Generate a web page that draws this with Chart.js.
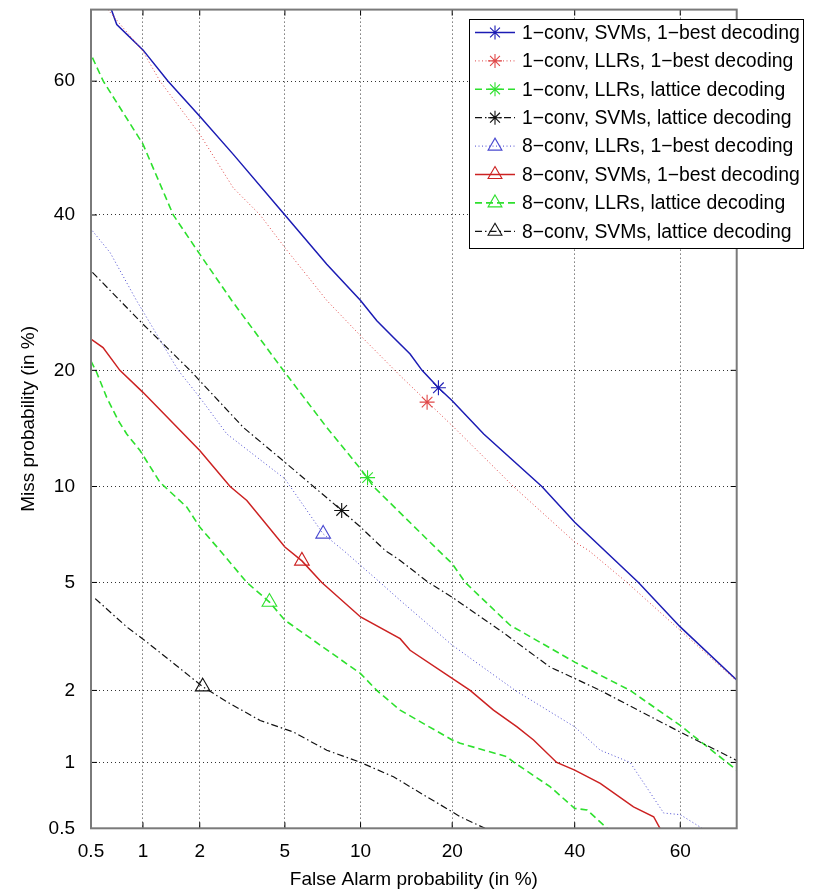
<!DOCTYPE html>
<html>
<head>
<meta charset="utf-8">
<script src="https://cdn.jsdelivr.net/npm/chart.js@4/dist/chart.umd.min.js"></script>
<style>
html,body{margin:0;padding:0;background:#fff;}
#wrap{width:813px;height:893px;}
</style>
</head>
<body>
<div id="wrap"><canvas id="c" width="813" height="893"></canvas></div>
<script>
// ---------------- DATA (percent) ----------------
const tickValues = [0.5, 1, 2, 5, 10, 20, 40, 60];
const tickLabels = ["0.5", "1", "2", "5", "10", "20", "40", "60"];
const axisMin = 0.5, axisMax = 70;

const seriesNames = [
  "1\u2212conv, SVMs, 1\u2212best decoding",
  "1\u2212conv, LLRs, 1\u2212best decoding",
  "1\u2212conv, LLRs, lattice decoding",
  "1\u2212conv, SVMs, lattice decoding",
  "8\u2212conv, LLRs, 1\u2212best decoding",
  "8\u2212conv, SVMs, 1\u2212best decoding",
  "8\u2212conv, LLRs, lattice decoding",
  "8\u2212conv, SVMs, lattice decoding"
];

const conv1SvmBestFA   = [0.66, 0.71, 1.0, 1.37, 2.0, 2.92, 5.0, 7.44, 10, 11.44, 13.06, 14.83, 16.2, 18.2, 20, 24.5, 34.05, 40, 52.1, 60, 70];
const conv1SvmBestMiss = [70, 68.0, 64.5, 60, 54.8, 49.05, 40, 33.0, 28.2, 25.66, 23.66, 21.78, 20, 18.2, 16.94, 13.95, 10, 7.83, 5, 3.49, 2.2];

const conv1LlrBestFA   = [0.63, 1.0, 1.24, 2.0, 2.92, 3.89, 5.0, 7.44, 10, 13.75, 16.8, 20, 29.2, 40, 42.6, 49.9, 60, 70];
const conv1LlrBestMiss = [70, 64.3, 60, 52.1, 44.0, 40, 35.3, 28.2, 23.86, 19.44, 16.85, 14.66, 10, 6.79, 6.38, 5, 3.39, 2.18];

const conv1LlrLatFA   = [0.51, 0.592, 1.0, 1.46, 2.0, 2.87, 4.92, 7.44, 10, 10.6, 11.13, 18.2, 20, 21.8, 28.66, 40, 50.5, 60, 70];
const conv1LlrLatMiss = [63.4, 60, 50.6, 40, 34.4, 28.2, 20, 14.5, 11.22, 10.56, 10, 6.38, 5.78, 5, 3.54, 2.58, 2, 1.44, 0.925];

const conv1SvmLatFA   = [0.51, 0.74, 1.0, 1.785, 2.0, 3.26, 5.0, 8.5, 10, 12.23, 13.75, 16.96, 20, 27.05, 35.5, 40, 44.8, 60, 70];
const conv1SvmLatMiss = [31.9, 28.2, 25.25, 20, 18.92, 14.5, 11.71, 8.5, 7.56, 6.38, 5.92, 5, 4.45, 3.39, 2.47, 2.23, 2, 1.35, 1.02];

const conv8LlrBestFA   = [0.51, 0.65, 0.92, 1.55, 2.0, 2.72, 5.0, 7.2, 8.63, 11.75, 13.75, 20, 29.5, 40, 44.8, 50.5, 56.9, 60, 64];
const conv8LlrBestMiss = [37.7, 34.6, 28.2, 20, 17.26, 13.95, 10.52, 7.2, 6.38, 5, 4.34, 2.99, 2, 1.42, 1.13, 1, 0.59, 0.58, 0.5];

const conv8SvmBestFA   = [0.5, 0.59, 0.74, 1.0, 2.0, 2.82, 3.38, 5.0, 5.9, 7.11, 10, 13.75, 14.83, 20, 22.5, 26.0, 29.8, 32.6, 36.7, 40, 44.8, 51.15, 55.0, 56.2];
const conv8SvmBestMiss = [23.48, 22.5, 20, 17.75, 12.6, 10, 9.1, 6.54, 5.9, 5, 3.79, 3.16, 2.86, 2.23, 2, 1.665, 1.42, 1.25, 1.0, 0.925, 0.807, 0.63, 0.567, 0.5];

const conv8LlrLatFA   = [0.5, 0.54, 0.62, 0.725, 0.81, 0.963, 1.24, 1.72, 2.0, 2.52, 3.38, 4.28, 5.0, 10, 11.44, 13.75, 20, 21.1, 28.1, 29.3, 35.5, 40, 42.3, 46.1];
const conv8LlrLatMiss = [21.0, 19.8, 17.26, 15.1, 13.95, 12.6, 10.28, 8.69, 7.56, 6.38, 5, 4.28, 3.69, 2.33, 2, 1.665, 1.25, 1.21, 1.06, 1.0, 0.78, 0.62, 0.61, 0.5];

const conv8SvmLatFA   = [0.53, 0.81, 1.05, 1.40, 2.07, 2.72, 3.89, 5.44, 7.44, 10, 13.06, 16.8, 20, 21.1, 24.7];
const conv8SvmLatMiss = [4.4, 3.49, 3.07, 2.62, 2.07, 1.8, 1.51, 1.35, 1.13, 1.0, 0.864, 0.70, 0.598, 0.567, 0.5];

// equal error rate marker per series (FA = Miss, percent)
const eerValues = [18.2, 16.8, 10.6, 8.5, 7.2, 5.9, 4.28, 2.07];

// ---------------- STYLE ----------------
const seriesFA   = [conv1SvmBestFA, conv1LlrBestFA, conv1LlrLatFA, conv1SvmLatFA, conv8LlrBestFA, conv8SvmBestFA, conv8LlrLatFA, conv8SvmLatFA];
const seriesMiss = [conv1SvmBestMiss, conv1LlrBestMiss, conv1LlrLatMiss, conv1SvmLatMiss, conv8LlrBestMiss, conv8SvmBestMiss, conv8LlrLatMiss, conv8SvmLatMiss];
const styles = [
  {color:'#1c1cb4', dash:[],            width:1.5, marker:'star'},
  {color:'#e04848', dash:[1,2.5],       width:1.0, marker:'star'},
  {color:'#2ee02e', dash:[7,4],         width:1.6, marker:'star'},
  {color:'#111111', dash:[7,3,1.5,3],   width:1.2, marker:'star'},
  {color:'#4a4ad0', dash:[1,2.5],       width:1.0, marker:'triangle'},
  {color:'#cc2222', dash:[],            width:1.5, marker:'triangle'},
  {color:'#2ee02e', dash:[7,4],         width:1.6, marker:'triangle'},
  {color:'#111111', dash:[7,3,1.5,3],   width:1.2, marker:'triangle'}
];

// inverse standard normal CDF (Acklam)
function probit(p){
  const a=[-3.969683028665376e+01,2.209460984245205e+02,-2.759285104469687e+02,1.383577518672690e+02,-3.066479806614716e+01,2.506628277459239e+00];
  const b=[-5.447609879822406e+01,1.615858368580409e+02,-1.556989798598866e+02,6.680131188771972e+01,-1.328068155288572e+01];
  const c=[-7.784894002430293e-03,-3.223964580411365e-01,-2.400758277161838e+00,-2.549732539343734e+00,4.374664141464968e+00,2.938163982698783e+00];
  const d=[7.784695709041462e-03,3.224671290700398e-01,2.445134137142996e+00,3.754408661907416e+00];
  const pl=0.02425, ph=1-pl; let q,r;
  if(p<pl){q=Math.sqrt(-2*Math.log(p));return (((((c[0]*q+c[1])*q+c[2])*q+c[3])*q+c[4])*q+c[5])/((((d[0]*q+d[1])*q+d[2])*q+d[3])*q+1);}
  if(p<=ph){q=p-0.5;r=q*q;return (((((a[0]*r+a[1])*r+a[2])*r+a[3])*r+a[4])*r+a[5])*q/(((((b[0]*r+b[1])*r+b[2])*r+b[3])*r+b[4])*r+1);}
  q=Math.sqrt(-2*Math.log(1-p));return -(((((c[0]*q+c[1])*q+c[2])*q+c[3])*q+c[4])*q+c[5])/((((d[0]*q+d[1])*q+d[2])*q+d[3])*q+1);
}
const pz = v => probit(v/100);

const FONT = "'Liberation Sans', Arial, Helvetica, sans-serif";

const datasets = [];
seriesFA.forEach((fa, i) => {
  const st = styles[i];
  datasets.push({
    label: seriesNames[i],
    data: fa.map((f, k) => ({x: pz(f), y: pz(seriesMiss[i][k])})),
    showLine: true, borderColor: st.color, borderWidth: st.width, borderDash: st.dash,
    pointRadius: 0, pointHoverRadius: 0, tension: 0, fill: false, order: 8 - i
  });
});
eerValues.forEach((e, i) => {
  const st = styles[i];
  datasets.push({
    label: seriesNames[i] + ' EER',
    data: [{x: pz(e), y: pz(e)}],
    showLine: false, borderColor: st.color, backgroundColor: 'rgba(0,0,0,0)',
    pointStyle: st.marker, pointRadius: st.marker === 'star' ? 7.5 : 8.5, borderWidth: 1.1
  });
});

function drawMarker(ctx, style, x, y, r, color){
  ctx.save();
  ctx.strokeStyle = color; ctx.lineWidth = 1.1; ctx.setLineDash([]);
  ctx.beginPath();
  if (style === 'star') {
    for (let k = 0; k < 4; k++) {
      const ang = k * Math.PI / 4;
      ctx.moveTo(x - Math.sin(ang)*r, y - Math.cos(ang)*r);
      ctx.lineTo(x + Math.sin(ang)*r, y + Math.cos(ang)*r);
    }
  } else {
    for (let k = 0; k < 3; k++) {
      const ang = k * 2 * Math.PI / 3;
      const px = x + Math.sin(ang)*r, py = y - Math.cos(ang)*r;
      if (k === 0) ctx.moveTo(px, py); else ctx.lineTo(px, py);
    }
    ctx.closePath();
  }
  ctx.stroke();
  ctx.restore();
}

const framePlugin = {
  id: 'frame',
  afterDraw(chart){
    const {ctx, chartArea: ca, scales} = chart;
    ctx.save();
    // inner tick marks
    ctx.strokeStyle = '#000'; ctx.lineWidth = 1; ctx.setLineDash([]);
    ctx.beginPath();
    tickValues.forEach(v => {
      const px = scales.x.getPixelForValue(pz(v));
      const py = scales.y.getPixelForValue(pz(v));
      if (px > ca.left + 1) {
        ctx.moveTo(px, ca.bottom); ctx.lineTo(px, ca.bottom - 6);
        ctx.moveTo(px, ca.top); ctx.lineTo(px, ca.top + 6);
      }
      if (py < ca.bottom - 1) {
        ctx.moveTo(ca.left, py); ctx.lineTo(ca.left + 6, py);
        ctx.moveTo(ca.right, py); ctx.lineTo(ca.right - 6, py);
      }
    });
    ctx.stroke();
    // box
    ctx.strokeStyle = '#7a7a7a'; ctx.lineWidth = 2;
    ctx.strokeRect(ca.left, ca.top, ca.right - ca.left, ca.bottom - ca.top);
    // legend
    const lx = 469, ly = 19, lw = 334, lh = 229;
    ctx.fillStyle = '#fff';
    ctx.fillRect(lx, ly, lw, lh);
    ctx.strokeStyle = '#000'; ctx.lineWidth = 1;
    ctx.strokeRect(lx + 0.5, ly + 0.5, lw, lh);
    ctx.font = '19.4px ' + FONT;
    ctx.textBaseline = 'middle'; ctx.textAlign = 'left';
    seriesNames.forEach((name, i) => {
      const st = styles[i];
      const y = 32.5 + i * 28.4;
      ctx.save();
      ctx.strokeStyle = st.color; ctx.lineWidth = st.width; ctx.setLineDash(st.dash);
      ctx.beginPath(); ctx.moveTo(475, y); ctx.lineTo(515, y); ctx.stroke();
      ctx.restore();
      drawMarker(ctx, st.marker, 495, y, st.marker === 'star' ? 7 : 8, st.color);
      ctx.fillStyle = '#000';
      ctx.fillText(name, 522, y + 1);
    });
    ctx.restore();
  }
};

const commonTicks = {
  autoSkip: false, maxRotation: 0, minRotation: 0, color: '#000',
  font: {family: FONT, size: 19},
  callback: (v, i) => tickLabels[i]
};
const gridOpts = {color: 'rgba(0,0,0,0.8)', lineWidth: 1, drawTicks: false};

new Chart(document.getElementById('c'), {
  type: 'scatter',
  data: {datasets},
  options: {
    responsive: false, animation: false, devicePixelRatio: 1,
    layout: {padding: {left: 0, right: 76.3, top: 8.3, bottom: 0}},
    plugins: {legend: {display: false}, tooltip: {enabled: false}},
    scales: {
      x: {
        type: 'linear', min: pz(axisMin), max: pz(axisMax),
        afterBuildTicks: s => { s.ticks = tickValues.map(v => ({value: pz(v)})); },
        afterFit: s => { s.height = 64.7; s.paddingLeft = 0; s.paddingRight = 0; },
        ticks: Object.assign({padding: 12}, commonTicks),
        grid: gridOpts,
        border: {display: false, dash: [1, 3]},
        title: {display: true, text: 'False Alarm probability (in %)', color: '#000',
                font: {family: FONT, size: 19}, padding: {top: 0, bottom: 2}}
      },
      y: {
        type: 'linear', min: pz(axisMin), max: pz(axisMax),
        afterBuildTicks: s => { s.ticks = tickValues.map(v => ({value: pz(v)})); },
        afterFit: s => { s.width = 91; s.paddingTop = 0; s.paddingBottom = 0; },
        ticks: Object.assign({padding: 16}, commonTicks),
        grid: gridOpts,
        border: {display: false, dash: [1, 3]},
        title: {display: true, text: 'Miss probability (in %)', color: '#000',
                font: {family: FONT, size: 19}, padding: {top: 17, bottom: 0}}
      }
    }
  },
  plugins: [framePlugin]
});
</script>
</body>
</html>
